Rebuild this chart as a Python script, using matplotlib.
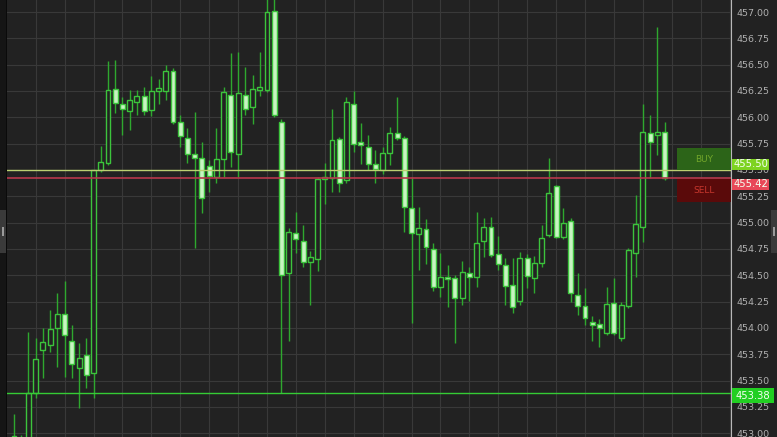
import numpy as np
import matplotlib.pyplot as plt
from matplotlib.patches import Rectangle
from matplotlib.transforms import blended_transform_factory

# OHLC values, one entry per bar
opens = [452.85, 452.92, 452.95, 453.38, 453.79, 453.84, 454.00, 454.13, 453.88, 453.62,
         453.74, 453.57, 455.50, 455.57, 456.27, 456.13, 456.06, 456.15, 456.20, 456.07,
         456.25, 456.25, 456.44, 455.96, 455.80, 455.65, 455.61, 455.54, 455.43, 455.60,
         456.21, 455.65, 456.21, 456.10, 456.26, 456.26, 457.01, 455.96, 454.52, 454.90,
         454.83, 454.63, 454.65, 455.41, 455.42, 455.79, 455.40, 456.13, 455.77, 455.72,
         455.56, 455.50, 455.66, 455.85, 455.80, 455.14, 454.89, 454.94, 454.75, 454.39,
         454.48, 454.47, 454.28, 454.52, 454.48, 454.83, 454.96, 454.70, 454.60, 454.41,
         454.26, 454.66, 454.47, 454.62, 454.88, 455.35, 454.86, 455.02, 454.31, 454.21,
         454.06, 454.04, 453.95, 454.24, 453.90, 454.21, 454.71, 454.96, 455.85, 455.83,
         455.86]
highs = [453.18, 452.98, 453.96, 453.90, 454.00, 454.17, 454.33, 454.45, 454.03, 453.86,
         453.90, 455.50, 455.73, 456.53, 456.54, 456.19, 456.26, 456.26, 456.29, 456.39,
         456.36, 456.50, 456.47, 456.02, 455.90, 456.05, 455.77, 455.59, 455.90, 456.29,
         456.61, 456.62, 456.48, 456.40, 456.62, 457.20, 457.20, 455.98, 454.95, 455.10,
         454.98, 454.73, 455.43, 455.57, 456.08, 455.81, 456.19, 456.25, 455.95, 455.83,
         455.69, 455.72, 455.91, 456.19, 455.82, 455.43, 455.15, 455.03, 454.81, 454.71,
         454.60, 454.50, 454.64, 454.58, 455.10, 455.04, 455.05, 454.87, 454.66, 454.66,
         454.72, 454.70, 454.68, 454.98, 455.61, 455.36, 455.14, 455.04, 454.52, 454.38,
         454.11, 454.08, 454.39, 454.47, 454.25, 454.76, 455.26, 456.13, 456.02, 456.86,
         455.96]
lows = [452.80, 452.85, 452.90, 453.33, 453.52, 453.77, 453.63, 453.53, 453.52, 453.24,
        453.43, 453.33, 455.48, 455.55, 456.04, 455.83, 455.88, 456.02, 456.02, 456.01,
        456.13, 456.16, 455.94, 455.72, 455.57, 454.76, 455.09, 455.29, 455.38, 455.43,
        455.53, 455.43, 456.02, 455.94, 456.20, 456.24, 456.00, 453.38, 453.88, 454.71,
        454.58, 454.22, 454.54, 455.18, 455.29, 455.29, 455.38, 455.67, 455.56, 455.50,
        455.38, 455.46, 455.55, 455.78, 454.91, 454.05, 454.55, 454.61, 454.35, 454.29,
        454.20, 453.86, 454.22, 454.26, 454.39, 454.67, 454.67, 454.55, 454.22, 454.14,
        454.22, 454.38, 454.33, 454.58, 454.86, 454.85, 454.84, 454.25, 454.12, 454.03,
        453.88, 453.82, 453.93, 453.93, 453.88, 454.19, 454.48, 454.82, 455.42, 455.64,
        455.40]
closes = [452.97, 452.90, 453.38, 453.70, 453.87, 453.99, 454.13, 453.93, 453.66, 453.71,
          453.55, 455.50, 455.58, 456.26, 456.14, 456.08, 456.16, 456.20, 456.06, 456.25,
          456.27, 456.44, 455.96, 455.82, 455.65, 455.61, 455.23, 455.44, 455.60, 456.24,
          455.67, 456.23, 456.08, 456.27, 456.27, 457.00, 456.02, 454.50, 454.91, 454.84,
          454.63, 454.67, 455.41, 455.42, 455.78, 455.38, 456.15, 455.75, 455.74, 455.56,
          455.51, 455.66, 455.85, 455.80, 455.15, 454.90, 454.95, 454.77, 454.39, 454.48,
          454.46, 454.28, 454.53, 454.48, 454.81, 454.96, 454.69, 454.61, 454.40, 454.20,
          454.66, 454.49, 454.62, 454.85, 455.28, 454.86, 455.00, 454.33, 454.21, 454.09,
          454.03, 454.00, 454.23, 453.95, 454.22, 454.74, 454.99, 455.86, 455.77, 455.86,
          455.42]

buy_price = 455.50
sell_price = 455.42
low_price = 453.38
y_ticks = np.arange(453.0, 457.01, 0.25)

bg = "#222222"
green = "#3cc43c"
wick = "#2ea82e"

o = np.array(opens)
h = np.array(highs)
l = np.array(lows)
c = np.array(closes)
idx = np.arange(len(o))
up = c >= o

fig = plt.figure(figsize=(7.77, 4.37), dpi=100, facecolor=bg)
ax = fig.add_axes([7 / 777, 0, 724 / 777, 1])
ax.set_facecolor(bg)

ax.set_xlim(-0.97, 99.2)
ax.set_ylim(452.964, 457.114)

# grid
ax.set_xticks(np.arange(3, 100, 4))
ax.set_yticks(y_ticks)
ax.set_yticklabels(["%.2f" % v for v in y_ticks])
ax.grid(True, color="#393939", lw=0.8)
ax.set_axisbelow(True)
ax.yaxis.tick_right()
ax.tick_params(axis="x", length=0, labelbottom=False)
ax.tick_params(axis="y", length=0, pad=4, labelsize=6.8, labelcolor="#b0b0b0")
for s in ["top", "bottom", "left"]:
    ax.spines[s].set_visible(False)
ax.spines["right"].set_color("#b8b8b8")
ax.spines["right"].set_linewidth(0.8)

# candles
ax.vlines(idx, l, h, color=wick, lw=1, zorder=2)
body = np.maximum(np.abs(c - o), 0.025)
bottom = np.minimum(o, c)
ax.bar(idx[up], body[up], bottom=bottom[up], width=0.68, facecolor=bg,
       edgecolor=green, lw=1, zorder=3)
ax.bar(idx[~up], body[~up], bottom=bottom[~up], width=0.68, facecolor="#c8f4c2",
       edgecolor=green, lw=1, zorder=3)

# price lines
ax.axhline(buy_price, color="#bcd070", lw=1, zorder=4)
ax.axhline(sell_price, color="#b8384c", lw=1.2, zorder=4)
ax.axhline(low_price, color="#35cc35", lw=1, zorder=4)

tr = blended_transform_factory(ax.transAxes, ax.transData)

# buy / sell buttons
ax.add_patch(Rectangle((0.9254, 455.500), 0.0746, 0.208, transform=tr,
                       facecolor="#2c6418", edgecolor="none", zorder=5))
ax.text(0.9627, 455.604, "BUY", transform=tr, ha="center", va="center",
        color="#72a62a", fontsize=6.5, zorder=6)
ax.add_patch(Rectangle((0.9254, 455.196), 0.0746, 0.218, transform=tr,
                       facecolor="#5a0a0a", edgecolor="none", zorder=5))
ax.text(0.9627, 455.305, "SELL", transform=tr, ha="center", va="center",
        color="#c8372d", fontsize=6.5, zorder=6)

# price tags on the axis
tags = [(buy_price, 455.500, 0.104, "#7ed321", 0.0511),
        (sell_price, 455.310, 0.104, "#e84858", 0.0511),
        (low_price, 453.287, 0.142, "#22cf22", 0.0580)]
for price, y0, hgt, col, w in tags:
    ax.add_patch(Rectangle((1.0014, y0), w, hgt, transform=tr, clip_on=False,
                           facecolor=col, edgecolor="none", zorder=7))
    ax.text(1.0014 + w / 2, y0 + hgt / 2, "%.2f" % price, transform=tr,
            ha="center", va="center", color="#f4fff0", fontsize=7.2,
            clip_on=False, zorder=8)

# side strips with collapse handles
fig.add_artist(Rectangle((0, 0), 6 / 777, 1, transform=fig.transFigure,
                         facecolor="#151515", edgecolor="none"))
fig.add_artist(Rectangle((6 / 777, 0), 1 / 777, 1, transform=fig.transFigure,
                         facecolor="#0a0a0a", edgecolor="none"))
for x0 in [0, 771 / 777]:
    fig.add_artist(Rectangle((x0, 0.421), 6 / 777, 0.098, transform=fig.transFigure,
                             facecolor="#3a3a3a", edgecolor="none"))
    fig.add_artist(Rectangle((x0 + 2 / 777, 0.46), 2 / 777, 0.02,
                             transform=fig.transFigure,
                             facecolor="#9a9a9a", edgecolor="none"))

fig.savefig("out.png", dpi=100, facecolor=bg)
